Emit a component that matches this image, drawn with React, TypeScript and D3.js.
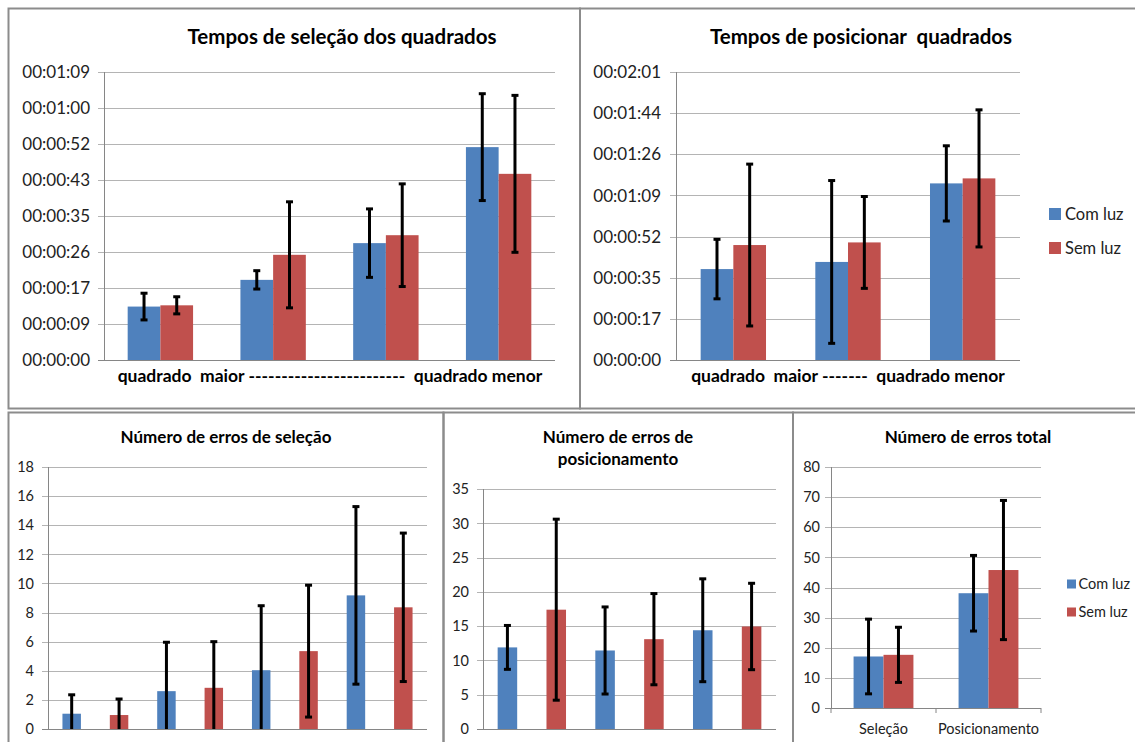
import React from "react";
import * as d3 from "d3";

// séries
const seriesNames = ["Com luz", "Sem luz"];
const seriesColors = ["#4F81BD", "#C0504D"];

// Tempos de seleção dos quadrados (segundos)
const selTimeGroups = ["q1", "q2", "q3", "q4"];
const selTimeComLuz = [12.8, 19.2, 28.0, 51.0];
const selTimeComLuzSd = [3.2, 2.2, 8.2, 12.8];
const selTimeSemLuz = [13.1, 25.2, 29.9, 44.6];
const selTimeSemLuzSd = [2.05, 12.7, 12.3, 18.8];
const selTimeMax = 69;
const selTimeTicks = ["00:00:00", "00:00:09", "00:00:17", "00:00:26", "00:00:35", "00:00:43", "00:00:52", "00:01:00", "00:01:09"];

// Tempos de posicionar quadrados (segundos)
const posTimeGroups = ["q1", "q2", "q3"];
const posTimeComLuz = [38.2, 41.2, 74.2];
const posTimeComLuzSd = [12.5, 34.2, 15.8];
const posTimeSemLuz = [48.3, 49.4, 76.3];
const posTimeSemLuzSd = [34.0, 19.3, 28.8];
const posTimeMax = 121;
const posTimeTicks = ["00:00:00", "00:00:17", "00:00:35", "00:00:52", "00:01:09", "00:01:26", "00:01:44", "00:02:01"];

// Número de erros de seleção
const selErrSeries = ["Com luz", "Sem luz", "Com luz", "Sem luz", "Com luz", "Sem luz", "Com luz", "Sem luz"];
const selErrValues = [1.05, 0.96, 2.6, 2.83, 4.04, 5.35, 9.18, 8.36];
const selErrSd = [1.3, 1.1, 3.36, 3.17, 4.43, 4.53, 6.1, 5.1];
const selErrTicks = [0, 2, 4, 6, 8, 10, 12, 14, 16, 18];

// Número de erros de posicionamento
const posErrSeries = ["Com luz", "Sem luz", "Com luz", "Sem luz", "Com luz", "Sem luz"];
const posErrValues = [11.9, 17.4, 11.45, 13.1, 14.4, 14.95];
const posErrSd = [3.2, 13.2, 6.35, 6.65, 7.5, 6.3];
const posErrTicks = [0, 5, 10, 15, 20, 25, 30, 35];

// Número de erros total
const totalGroups = ["Seleção", "Posicionamento"];
const totalComLuz = [17.1, 38.1];
const totalComLuzSd = [12.4, 12.55];
const totalSemLuz = [17.65, 45.8];
const totalSemLuzSd = [9.15, 23.1];
const totalTicks = [0, 10, 20, 30, 40, 50, 60, 70, 80];

const FONT = "Lato, 'Open Sans', sans-serif";

type Bar = { group: string; series: string; value: number; sd: number };

function clustered(groups: string[], a: number[], aSd: number[], b: number[], bSd: number[]): Bar[] {
  const out: Bar[] = [];
  groups.forEach((g, i) => {
    out.push({ group: g, series: seriesNames[0], value: a[i], sd: aSd[i] });
    out.push({ group: g, series: seriesNames[1], value: b[i], sd: bSd[i] });
  });
  return out;
}

function single(series: string[], v: number[], sd: number[]): Bar[] {
  return series.map((s, i) => ({ group: "c" + i, series: s, value: v[i], sd: sd[i] }));
}

type PanelProps = {
  plot: { left: number; right: number; top: number; bottom: number };
  yMax: number;
  ticks: { value: number; label: string }[];
  tickFont: number;
  labelGap: number;
  groups: string[];
  oneBar?: boolean;
  padding: number;
  bars: Bar[];
  title: string[];
  titleX: number;
  titleY: number;
  titleFont: number;
  titleLine?: number;
  xTitle?: string;
  xTitleX?: number;
  xTitleY?: number;
  xTitleFont?: number;
  catLabels?: boolean;
  catY?: number;
  catFont?: number;
  legend?: { x: number; y: number; dy: number; font: number; size: number; gap: number };
};

function Panel(p: PanelProps) {
  const { plot } = p;
  const y = d3.scaleLinear().domain([0, p.yMax]).range([plot.bottom, plot.top]);
  const xg = d3.scaleBand<string>().domain(p.groups).range([plot.left, plot.right])
    .paddingInner(p.padding).paddingOuter(p.padding / 2);
  const xs = d3.scaleBand<string>().domain(p.oneBar ? ["one"] : seriesNames).range([0, xg.bandwidth()]);
  const key = (b: Bar) => (p.oneBar ? "one" : b.series);
  const color = d3.scaleOrdinal<string, string>().domain(seriesNames).range(seriesColors);
  const cap = 3.5;

  return (
    <g>
      <text x={p.titleX} y={p.titleY} textAnchor="middle" fontFamily={FONT} fontWeight="bold"
        fontSize={p.titleFont} fill="#000" style={{ whiteSpace: "pre" }}>
        {p.title.map((t, i) => (
          <tspan key={i} x={p.titleX} dy={i === 0 ? 0 : p.titleLine}>{t}</tspan>
        ))}
      </text>
      {p.ticks.map((t, i) => (
        <g key={i}>
          <line x1={plot.left - 6} x2={plot.right} y1={Math.round(y(t.value)) + 0.5} y2={Math.round(y(t.value)) + 0.5}
            stroke={i === 0 ? "#868686" : "#B4B4B4"} strokeWidth={1} />
          <text x={plot.left - p.labelGap} y={y(t.value) + p.tickFont * 0.36} textAnchor="end" fontFamily={FONT}
            fontSize={p.tickFont} fill="#222">{t.label}</text>
        </g>
      ))}
      <line x1={plot.left + 0.5} x2={plot.left + 0.5} y1={plot.top} y2={plot.bottom} stroke="#868686" />
      {p.bars.map((b, i) => {
        const x0 = (xg(b.group) ?? 0) + (xs(key(b)) ?? 0);
        return (
          <rect key={i} x={x0} y={y(b.value)} width={xs.bandwidth()} height={plot.bottom - y(b.value)}
            fill={color(b.series)} />
        );
      })}
      {p.bars.map((b, i) => {
        const cx = (xg(b.group) ?? 0) + (xs(key(b)) ?? 0) + xs.bandwidth() / 2;
        const lo = b.value - b.sd;
        const yTop = y(b.value + b.sd);
        const yBot = y(Math.max(0, lo));
        return (
          <g key={i} stroke="#000" strokeWidth={3}>
            <line x1={cx} x2={cx} y1={yTop} y2={yBot} />
            <line x1={cx - cap} x2={cx + cap} y1={yTop} y2={yTop} />
            {lo > 0 && <line x1={cx - cap} x2={cx + cap} y1={yBot} y2={yBot} />}
          </g>
        );
      })}
      {p.catLabels && (
        <g>
          {p.groups.map(g => (
            <g key={g}>
              <line x1={(xg(g) ?? 0) - (xg.step() * p.padding) / 2} x2={(xg(g) ?? 0) - (xg.step() * p.padding) / 2}
                y1={plot.bottom} y2={plot.bottom + 5} stroke="#868686" />
              <text x={(xg(g) ?? 0) + xg.bandwidth() / 2} y={p.catY} textAnchor="middle" fontFamily={FONT}
                fontSize={p.catFont} fill="#222">{g}</text>
            </g>
          ))}
          <line x1={plot.right} x2={plot.right} y1={plot.bottom} y2={plot.bottom + 5} stroke="#868686" />
        </g>
      )}
      {p.xTitle && (
        <text x={p.xTitleX} y={p.xTitleY} textAnchor="middle" fontFamily={FONT} fontWeight="bold"
          fontSize={p.xTitleFont} fill="#000" style={{ whiteSpace: "pre" }}>{p.xTitle}</text>
      )}
      {p.legend && seriesNames.map((s, i) => {
        const L = p.legend!;
        return (
          <g key={s}>
            <rect x={L.x} y={L.y + i * L.dy - L.size / 2} width={L.size} height={L.size} fill={color(s)} />
            <text x={L.x + L.size + L.gap} y={L.y + i * L.dy + L.font * 0.36}
              fontFamily={FONT} fontSize={L.font} fill="#222">{s}</text>
          </g>
        );
      })}
    </g>
  );
}

const timeTicks = (labels: string[], max: number) =>
  labels.map((l, i) => ({ value: (i * max) / (labels.length - 1), label: l }));
const numTicks = (vals: number[]) => vals.map(v => ({ value: v, label: String(v) }));

export default function App() {
  const frame = "#8C8C8C";
  return (
    <svg width={1135} height={742} style={{ position: "absolute", left: 0, top: 0, background: "#fff" }}>
      <rect x={0} y={0} width={1135} height={742} fill="#fff" />
      {/* molduras */}
      <rect x={8.5} y={8.5} width={571.5} height={400} fill="none" stroke={frame} strokeWidth={2} />
      <rect x={580} y={8.5} width={600} height={400} fill="none" stroke={frame} strokeWidth={2} />
      <rect x={8.5} y={412.5} width={435} height={400} fill="none" stroke={frame} strokeWidth={2} />
      <rect x={443.5} y={412.5} width={349.5} height={400} fill="none" stroke={frame} strokeWidth={2} />
      <rect x={793} y={412.5} width={400} height={400} fill="none" stroke={frame} strokeWidth={2} />

      <Panel
        plot={{ left: 104, right: 555, top: 72, bottom: 360 }}
        yMax={selTimeMax}
        ticks={timeTicks(selTimeTicks, selTimeMax)}
        tickFont={17}
        labelGap={14}
        groups={selTimeGroups}
        padding={0.42}
        bars={clustered(selTimeGroups, selTimeComLuz, selTimeComLuzSd, selTimeSemLuz, selTimeSemLuzSd)}
        title={["Tempos de seleção dos quadrados"]}
        titleX={342}
        titleY={44}
        titleFont={20.5}
        xTitle={"quadrado  maior ------------------------  quadrado menor"}
        xTitleX={330}
        xTitleY={382}
        xTitleFont={17.5}
      />
      <Panel
        plot={{ left: 676, right: 1020, top: 72, bottom: 360 }}
        yMax={posTimeMax}
        ticks={timeTicks(posTimeTicks, posTimeMax)}
        tickFont={17}
        labelGap={15}
        groups={posTimeGroups}
        padding={0.43}
        bars={clustered(posTimeGroups, posTimeComLuz, posTimeComLuzSd, posTimeSemLuz, posTimeSemLuzSd)}
        title={["Tempos de posicionar  quadrados"]}
        titleX={861}
        titleY={44}
        titleFont={20.5}
        xTitle={"quadrado  maior -------  quadrado menor"}
        xTitleX={848}
        xTitleY={382}
        xTitleFont={17.5}
        legend={{ x: 1049, y: 214, dy: 34, font: 16.5, size: 12, gap: 4 }}
      />
      <Panel
        plot={{ left: 48, right: 427, top: 467, bottom: 729 }}
        yMax={18}
        ticks={numTicks(selErrTicks)}
        tickFont={14.5}
        labelGap={14}
        groups={selErrSeries.map((_, i) => "c" + i)}
        oneBar
        padding={0.61}
        bars={single(selErrSeries, selErrValues, selErrSd)}
        title={["Número de erros de seleção"]}
        titleX={226}
        titleY={443}
        titleFont={17}
      />
      <Panel
        plot={{ left: 483, right: 776, top: 489, bottom: 729 }}
        yMax={35}
        ticks={numTicks(posErrTicks)}
        tickFont={14.5}
        labelGap={14}
        groups={posErrSeries.map((_, i) => "c" + i)}
        oneBar
        padding={0.6}
        bars={single(posErrSeries, posErrValues, posErrSd)}
        title={["Número de erros de", "posicionamento"]}
        titleX={618}
        titleY={443}
        titleFont={17}
        titleLine={21.5}
      />
      <Panel
        plot={{ left: 831, right: 1041, top: 467, bottom: 708 }}
        yMax={80}
        ticks={numTicks(totalTicks)}
        tickFont={14.5}
        labelGap={11}
        groups={totalGroups}
        padding={0.43}
        bars={clustered(totalGroups, totalComLuz, totalComLuzSd, totalSemLuz, totalSemLuzSd)}
        title={["Número de erros total"]}
        titleX={968}
        titleY={443}
        titleFont={17}
        catLabels
        catY={734}
        catFont={14.5}
        legend={{ x: 1067, y: 584, dy: 28, font: 14.5, size: 9, gap: 2.5 }}
      />
    </svg>
  );
}
